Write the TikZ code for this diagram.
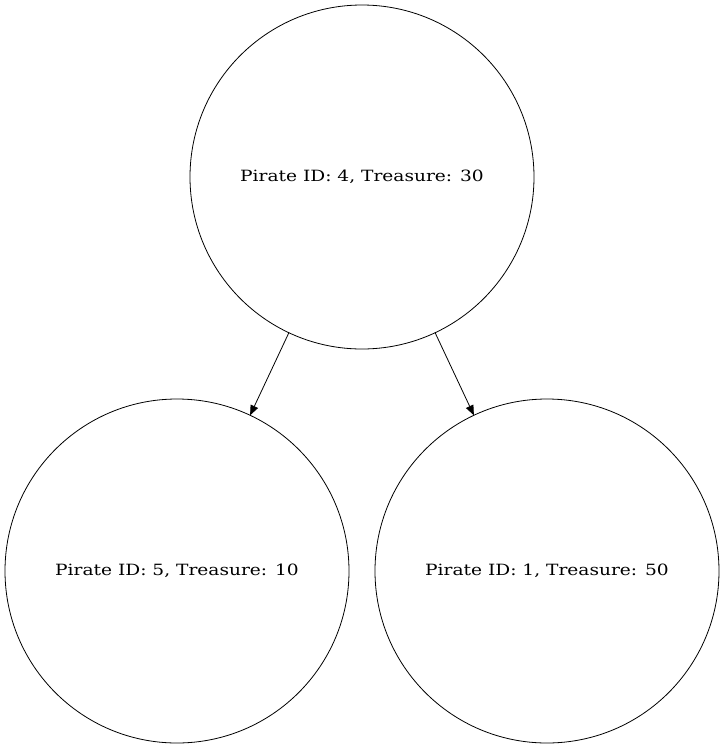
\documentclass[tikz,border=0pt]{standalone}
\usepackage{fontspec}
\setmainfont[FakeStretch=1.2]{DejaVu Serif}
\usetikzlibrary{arrows.meta}
\begin{document}
\begin{tikzpicture}[x=1pt,y=-1pt,
  pnode/.style={circle,draw,line width=0.8pt,minimum size=344pt,inner sep=0pt,outer sep=0pt,font=\fontsize{15.5}{18}\selectfont},
  edge/.style={line width=0.8pt,-{Triangle[length=10pt,width=8pt]}}]
\useasboundingbox (0,0) rectangle (725,748);
\node[pnode] (top) at (362,177) {Pirate ID: 4, Treasure: 30};
\node[pnode] (left) at (177,571) {Pirate ID: 5, Treasure: 10};
\node[pnode] (right) at (547,571) {Pirate ID: 1, Treasure: 50};
\draw[edge] (top) -- (left);
\draw[edge] (top) -- (right);
\end{tikzpicture}
\end{document}
